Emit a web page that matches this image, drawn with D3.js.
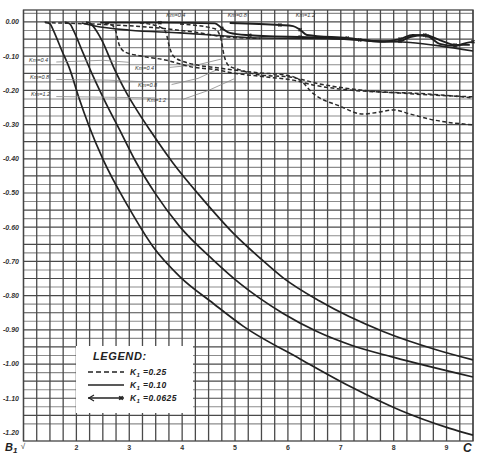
<!DOCTYPE html>
<html>
<head>
<meta charset="utf-8">
<script src="https://cdn.jsdelivr.net/npm/d3@7"></script>
<style>
  body { margin: 0; background: #fff; }
  text { font-family: "Liberation Sans", Arial, sans-serif; }
</style>
</head>
<body>
<svg id="chart"></svg>
<script>
// tick labels
let xTicks = [2, 3, 4, 5, 6, 7, 8, 9];
let yTicks = [0, -0.1, -0.2, -0.3, -0.4, -0.5, -0.6, -0.7, -0.8, -0.9, -1.0, -1.1, -1.2];
let yTickLabels = ["0.00","-0.10","-0.20","-0.30","-0.40","-0.50","-0.60","-0.70","-0.80","-0.90","-1.00","-1.10","-1.20"];

// the three big descending curves
let curve1 = [[1.40,0],[1.50,-0.005],[1.56,-0.023],[1.72,-0.082],[1.88,-0.14],[2.04,-0.218],[2.24,-0.305],[2.51,-0.404],[2.98,-0.54],[3.45,-0.657],[3.96,-0.745],[4.59,-0.823],[5.16,-0.89],[6.23,-0.985],[7.17,-1.065],[8.12,-1.135],[9.06,-1.188],[9.5,-1.208]];
let curve2 = [[1.78,0],[1.88,-0.006],[1.94,-0.023],[2.13,-0.092],[2.32,-0.16],[2.55,-0.235],[2.82,-0.316],[3.14,-0.413],[3.49,-0.501],[3.96,-0.599],[4.59,-0.696],[5.09,-0.764],[5.47,-0.808],[5.91,-0.852],[6.55,-0.905],[7.2,-0.945],[7.99,-0.98],[9.5,-1.038]];
let curve3 = [[2.18,0],[2.26,-0.004],[2.48,-0.053],[2.70,-0.131],[2.95,-0.208],[3.14,-0.257],[3.39,-0.316],[3.83,-0.413],[4.40,-0.52],[4.97,-0.618],[5.47,-0.69],[5.91,-0.748],[6.6,-0.816],[7.8,-0.905],[8.82,-0.959],[9.5,-0.988]];

// upper band, K1 = 0.0625 (marked)
let mark1 = [[2.45,-0.002],[3.58,-0.002],[4.62,-0.004],[4.75,-0.018],[4.90,-0.032],[5.28,-0.039],[5.75,-0.042],[6.23,-0.044],[6.79,-0.047],[7.36,-0.053],[7.83,-0.058],[8.12,-0.056],[8.31,-0.044],[8.59,-0.038],[8.87,-0.053],[9.16,-0.067],[9.44,-0.067]];
let mark2 = [[4.90,-0.003],[5.85,-0.009],[6.10,-0.012],[6.23,-0.023],[6.36,-0.038],[7.12,-0.047],[7.74,-0.057],[8.12,-0.05],[8.36,-0.038],[8.63,-0.041],[8.87,-0.064],[9.16,-0.07],[9.38,-0.061],[9.5,-0.058]];
// upper band, K1 = 0.10 (solid)
let solid1 = [[2.10,-0.003],[2.35,-0.012],[3.01,-0.024],[3.96,-0.032],[4.81,-0.041],[5.47,-0.047],[6.23,-0.048],[6.98,-0.05],[7.74,-0.056],[8.31,-0.06],[8.87,-0.07],[9.5,-0.085]];
// upper band, K1 = 0.25 (dashed)
let dash0 = [[1.41,-0.002],[2.45,-0.007],[3.58,-0.018],[4.20,-0.029],[4.85,-0.044],[5.47,-0.048]];
let dash1 = [[2.54,-0.003],[2.67,-0.009],[2.75,-0.029],[2.81,-0.067],[2.92,-0.088],[3.20,-0.099],[3.68,-0.111],[4.20,-0.132],[4.66,-0.14],[4.96,-0.149],[5.60,-0.161],[6.10,-0.17],[6.47,-0.184],[6.98,-0.196],[7.74,-0.205],[8.36,-0.208],[8.87,-0.213],[9.5,-0.222]];
let dash2 = [[3.20,-0.003],[3.54,-0.012],[3.69,-0.029],[3.75,-0.067],[3.83,-0.099],[4.05,-0.117],[4.72,-0.135],[5.47,-0.149],[5.94,-0.155],[6.23,-0.17],[6.47,-0.208],[6.98,-0.246],[7.42,-0.269],[7.74,-0.263],[7.99,-0.257],[8.31,-0.269],[8.68,-0.284],[9.5,-0.301]];
let dash3 = [[3.96,-0.006],[4.62,-0.02],[4.73,-0.047],[4.79,-0.096],[4.87,-0.126],[5.09,-0.14],[5.47,-0.155],[6.04,-0.161],[6.60,-0.181],[7.36,-0.199],[8.12,-0.208],[9.5,-0.219]];

let kmLabels = ["Km=0.4", "Km=0.8", "Km=1.2"];
let legendLabels = ["=0.25", "=0.10", "=0.0625"];

let W = 477, H = 462;
let svg = d3.select("#chart").attr("width", W).attr("height", H);

let x = d3.scaleLinear().domain([1, 9.5]).range([23.5, 473]);
let y = d3.scaleLinear().domain([0.035, -1.225]).range([10, 441]);

// grid
let g = svg.append("g");
for (let i = 0; i <= 48; i++) {
    let v = 0.025 - i * 0.025;
    let major = Math.abs(Math.round(v * 1000)) % 50 == 0;
    g.append("line")
        .attr("x1", x(1)).attr("x2", x(9.5))
        .attr("y1", y(v)).attr("y2", y(v))
        .attr("stroke", major ? "#4a4a4a" : "#8c8c8c")
        .attr("stroke-width", major ? 1.2 : 1.1);
}
for (let i = 0; i <= 34; i++) {
    let v = 1 + i * 0.25;
    g.append("line")
        .attr("x1", x(v)).attr("x2", x(v))
        .attr("y1", y(0.035)).attr("y2", y(-1.225))
        .attr("stroke", "#4a4a4a")
        .attr("stroke-width", 1.3);
}
svg.append("rect")
    .attr("x", x(1)).attr("y", y(0.035))
    .attr("width", x(9.5) - x(1)).attr("height", y(-1.225) - y(0.035))
    .attr("fill", "none").attr("stroke", "#444").attr("stroke-width", 1.3);

// axis labels
yTicks.forEach((t, i) =>
    svg.append("text")
        .attr("x", 19).attr("y", y(t)).attr("dy", "0.35em")
        .attr("text-anchor", "end")
        .style("font-size", "7px").style("font-weight", "bold").style("font-style", "italic")
        .style("fill", "#333")
        .text(yTickLabels[i])
);
xTicks.forEach(t =>
    svg.append("text")
        .attr("x", x(t)).attr("y", 450)
        .attr("text-anchor", "middle")
        .style("font-size", "7px").style("font-weight", "bold").style("fill", "#333")
        .text(t)
);
svg.append("text").attr("x", 5).attr("y", 451)
    .style("font-size", "11px").style("font-weight", "bold").style("font-style", "italic")
    .style("fill", "#222").text("B")
    .append("tspan").attr("dy", 2).style("font-size", "8px").text("1");
svg.append("text").attr("x", 23).attr("y", 449).attr("text-anchor", "middle")
    .style("font-size", "8px").style("fill", "#333").text("√");
svg.append("text").attr("x", 463).attr("y", 452)
    .style("font-size", "12px").style("font-weight", "bold").style("font-style", "italic")
    .style("fill", "#222").text("C");

let line = d3.line()
    .x(d => x(d[0]))
    .y(d => y(d[1]))
    .curve(d3.curveMonotoneX);

// main curves
[curve1, curve2, curve3].forEach(c =>
    svg.append("path").datum(c).attr("d", line)
        .attr("fill", "none").attr("stroke", "#222").attr("stroke-width", 1.7)
);

// thin leader lines for Km labels
let leaders = [
    [[1.62,-0.117],[2.5,-0.112],[3.0,-0.118]],
    [[1.62,-0.168],[2.6,-0.17],[3.3,-0.175]],
    [[1.62,-0.218],[2.6,-0.22],[3.5,-0.222]],
    [[3.75,-0.133],[4.3,-0.125],[4.75,-0.108]],
    [[3.8,-0.183],[4.3,-0.165],[4.65,-0.14]],
    [[3.98,-0.228],[4.5,-0.2],[5.0,-0.165]]
];
leaders.forEach(l =>
    svg.append("path").datum(l).attr("d", d3.line().x(d => x(d[0])).y(d => y(d[1])))
        .attr("fill", "none").attr("stroke", "#888").attr("stroke-width", 0.8)
);

// K1 = 0.25 dashed
[dash0, dash1, dash2, dash3].forEach(c =>
    svg.append("path").datum(c).attr("d", line)
        .attr("fill", "none").attr("stroke", "#2a2a2a").attr("stroke-width", 1.5)
        .attr("stroke-dasharray", "4,2.5")
);
// K1 = 0.10 solid
svg.append("path").datum(solid1).attr("d", line)
    .attr("fill", "none").attr("stroke", "#222").attr("stroke-width", 1.6);
// K1 = 0.0625 marked
[mark1, mark2].forEach(c => {
    svg.append("path").datum(c).attr("d", line)
        .attr("fill", "none").attr("stroke", "#1e1e1e").attr("stroke-width", 1.9);
    c.forEach((d, i) => {
        if (i % 2 == 1) {
            svg.append("path")
                .attr("d", d3.symbol().type(d3.symbolCross).size(10)())
                .attr("transform", "translate(" + x(d[0]) + "," + y(d[1]) + ") rotate(45)")
                .attr("fill", "#222");
        }
    });
});

// Km labels
function kmText(px, py, s) {
    svg.append("text").attr("x", px).attr("y", py)
        .style("font-size", "5.5px").style("font-style", "italic").style("fill", "#333")
        .text(s);
}
kmLabels.forEach((s, i) => kmText(x([3.7, 4.86, 6.15][i]), 17, s));
kmLabels.forEach((s, i) => kmText(29 + i, [62, 79, 96][i], s));
kmLabels.forEach((s, i) => kmText([135, 138, 147][i], [70, 87, 102][i], s));

// legend
svg.append("rect").attr("x", 76).attr("y", 346).attr("width", 117).attr("height", 67)
    .attr("fill", "#fff");
svg.append("text").attr("x", 93).attr("y", 360)
    .style("font-size", "11px").style("font-weight", "bold").style("font-style", "italic")
    .style("letter-spacing", "0.6px")
    .style("fill", "#222").text("LEGEND:");
let rowY = [372, 385, 398];
let styles = [{dash: "5,3", w: 1.4}, {dash: null, w: 1.6}, {dash: null, w: 1.6}];
legendLabels.forEach((s, i) => {
    svg.append("line").attr("x1", 88).attr("x2", 124).attr("y1", rowY[i]).attr("y2", rowY[i])
        .attr("stroke", "#222").attr("stroke-width", styles[i].w)
        .attr("stroke-dasharray", styles[i].dash);
    let t = svg.append("text").attr("x", 130).attr("y", rowY[i] + 3)
        .style("font-size", "8.5px").style("font-weight", "bold").style("font-style", "italic")
        .style("letter-spacing", "0.4px")
        .style("fill", "#222").text("K");
    t.append("tspan").attr("dy", 1.5).style("font-size", "6px").text("1");
    t.append("tspan").attr("dy", -1.5).text("  " + s);
});
// marker ends on legend row 3
svg.append("path").attr("d", "M94,395 L89,398 L94,401").attr("fill", "none").attr("stroke", "#222").attr("stroke-width", 1.2);
svg.append("path")
    .attr("d", d3.symbol().type(d3.symbolCross).size(14)())
    .attr("transform", "translate(121," + rowY[2] + ") rotate(45)")
    .attr("fill", "#222");
</script>
</body>
</html>
